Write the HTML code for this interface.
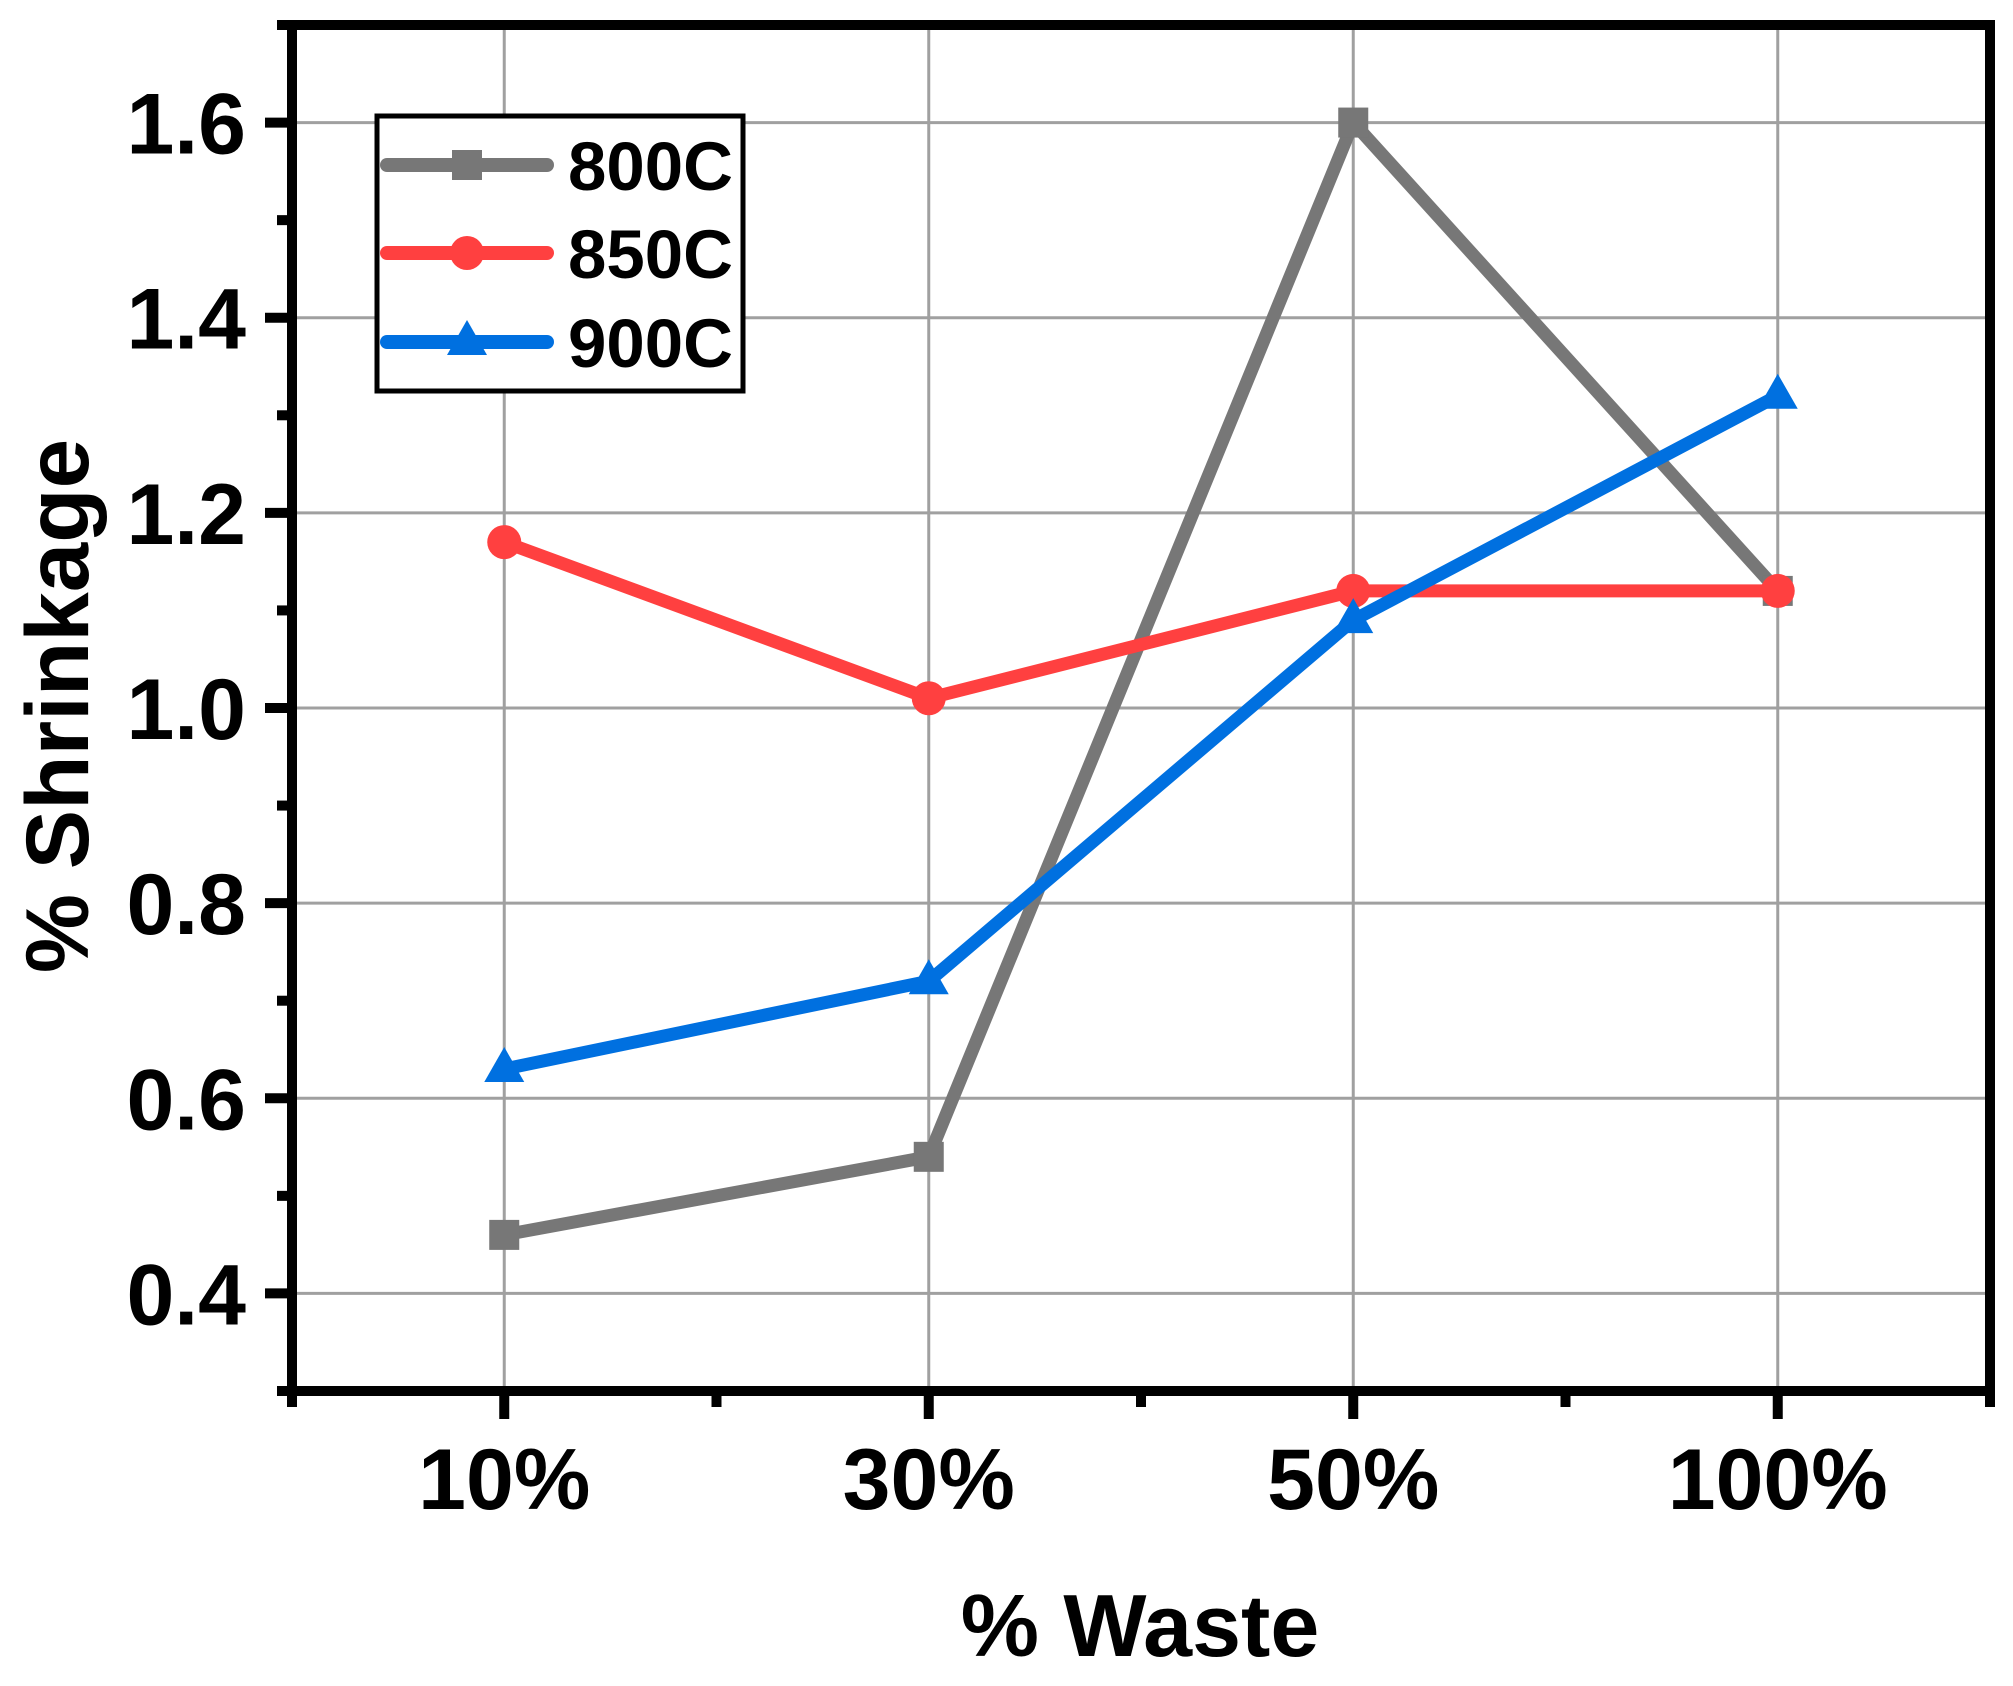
<!DOCTYPE html>
<html><head><meta charset="utf-8">
<style>
html,body{margin:0;padding:0;background:#fff;}
svg{display:block;}
text{font-family:"Liberation Sans",Arial,sans-serif;font-weight:bold;fill:#000;}
</style></head>
<body>
<svg id="chart" width="2013" height="1686" viewBox="0 0 2013 1686" xmlns="http://www.w3.org/2000/svg">
<g id="grid"></g>
<g id="series"></g>
<g id="axes"></g>
<g id="legend"></g>
<text x="1140" y="1656" font-size="88" text-anchor="middle">% Waste</text>
<text transform="translate(88,706) rotate(-90)" font-size="89" text-anchor="middle">% Shrinkage</text>
</svg>
<script>
const categories = ["10%", "30%", "50%", "100%"];
const s800 = [0.46, 0.54, 1.60, 1.12];
const s850 = [1.17, 1.01, 1.12, 1.12];
const s900 = [0.63, 0.72, 1.09, 1.32];
const seriesNames = ["800C", "850C", "900C"];
const yTicks = [0.4, 0.6, 0.8, 1.0, 1.2, 1.4, 1.6];
const yTickLabels = ["0.4", "0.6", "0.8", "1.0", "1.2", "1.4", "1.6"];

const NS = "http://www.w3.org/2000/svg";
const L = 292, R = 1990, T = 25, B = 1391;
const yMin = 0.3, yMax = 1.7;
function xs(i){ return L + (i + 0.5) / categories.length * (R - L); }
function ys(v){ return B - (v - yMin) / (yMax - yMin) * (B - T); }
function mk(tag, attrs, parent){
  const e = document.createElementNS(NS, tag);
  for (const k in attrs) e.setAttribute(k, attrs[k]);
  parent.appendChild(e); return e;
}
const grid = document.getElementById('grid');
const axes = document.getElementById('axes');
const series = document.getElementById('series');
const legend = document.getElementById('legend');

yTicks.forEach((v, i) => {
  const g = mk('line', {x1:L, x2:R, y1:ys(v), y2:ys(v), stroke:'#a0a0a0', 'stroke-width':3}, grid);
  
  
  const t = mk('line', {x1:L-27, x2:L, y1:ys(v), y2:ys(v), stroke:'#000', 'stroke-width':10}, axes);
  
  
  const lb = mk('text', {x:246, y:ys(v)+31, 'font-size':86, 'text-anchor':'end'}, axes);
  lb.textContent = yTickLabels[i];
  
  
});
for (let v = yMin; v <= yMax + 1e-9; v += 0.2) {
  const t = mk('line', {x1:L-15, x2:L, y1:ys(v), y2:ys(v), stroke:'#000', 'stroke-width':10}, axes);
  
  
}
categories.forEach((c, i) => {
  const g = mk('line', {x1:xs(i), x2:xs(i), y1:T, y2:B, stroke:'#a0a0a0', 'stroke-width':3}, grid);
  
  
  const t = mk('line', {x1:xs(i), x2:xs(i), y1:B, y2:B+28, stroke:'#000', 'stroke-width':10}, axes);
  
  
  const lb = mk('text', {x:xs(i), y:1509, 'font-size':86, 'text-anchor':'middle'}, axes);
  lb.textContent = c;
  
  
});
for (let i = 0; i <= categories.length; i++) {
  const t = mk('line', {x1:xs(i-0.5), x2:xs(i-0.5), y1:B, y2:B+16, stroke:'#000', 'stroke-width':10}, axes);
  
  
}
const frame = mk('rect', {x:L, y:T, width:R-L, height:B-T, fill:'none', stroke:'#000', 'stroke-width':10}, axes);



const colors = ['#777777', '#ff4040', '#0070e0'];
const data = [s800, s850, s900];
function marker(type, x, y, color, parent){
  let m;
  if (type === 0) m = mk('rect', {x:x-15, y:y-15, width:30, height:30, fill:color}, parent);
  else if (type === 1) m = mk('circle', {cx:x, cy:y, r:17, fill:color}, parent);
  else m = mk('polygon', {points:`${x},${y-22} ${x+20},${y+13} ${x-20},${y+13}`, fill:color}, parent);
  return m;
}
data.forEach((arr, si) => {
  const pts = arr.map((v, i) => xs(i) + ',' + ys(v)).join(' ');
  const pl = mk('polyline', {points:pts, fill:'none', stroke:colors[si], 'stroke-width':13, 'stroke-linejoin':'miter'}, series);
  
  
});
data.forEach((arr, si) => {
  arr.forEach((v, i) => {
    const m = marker(si, xs(i), ys(v), colors[si], series);
    
    
  });
});

const box = mk('rect', {x:377, y:116, width:366, height:275, fill:'#fff', stroke:'#000', 'stroke-width':5}, legend);


const ly = [165, 253, 342];
seriesNames.forEach((n, si) => {
  const g = mk('g', {}, legend);
  
  
  mk('line', {x1:387, x2:547, y1:ly[si], y2:ly[si], stroke:colors[si], 'stroke-width':14, 'stroke-linecap':'round'}, g);
  marker(si, 467, ly[si], colors[si], g);
  const t = mk('text', {x:568, y:ly[si]+25, 'font-size':69}, g);
  t.textContent = n;
});
</script>
</body></html>
